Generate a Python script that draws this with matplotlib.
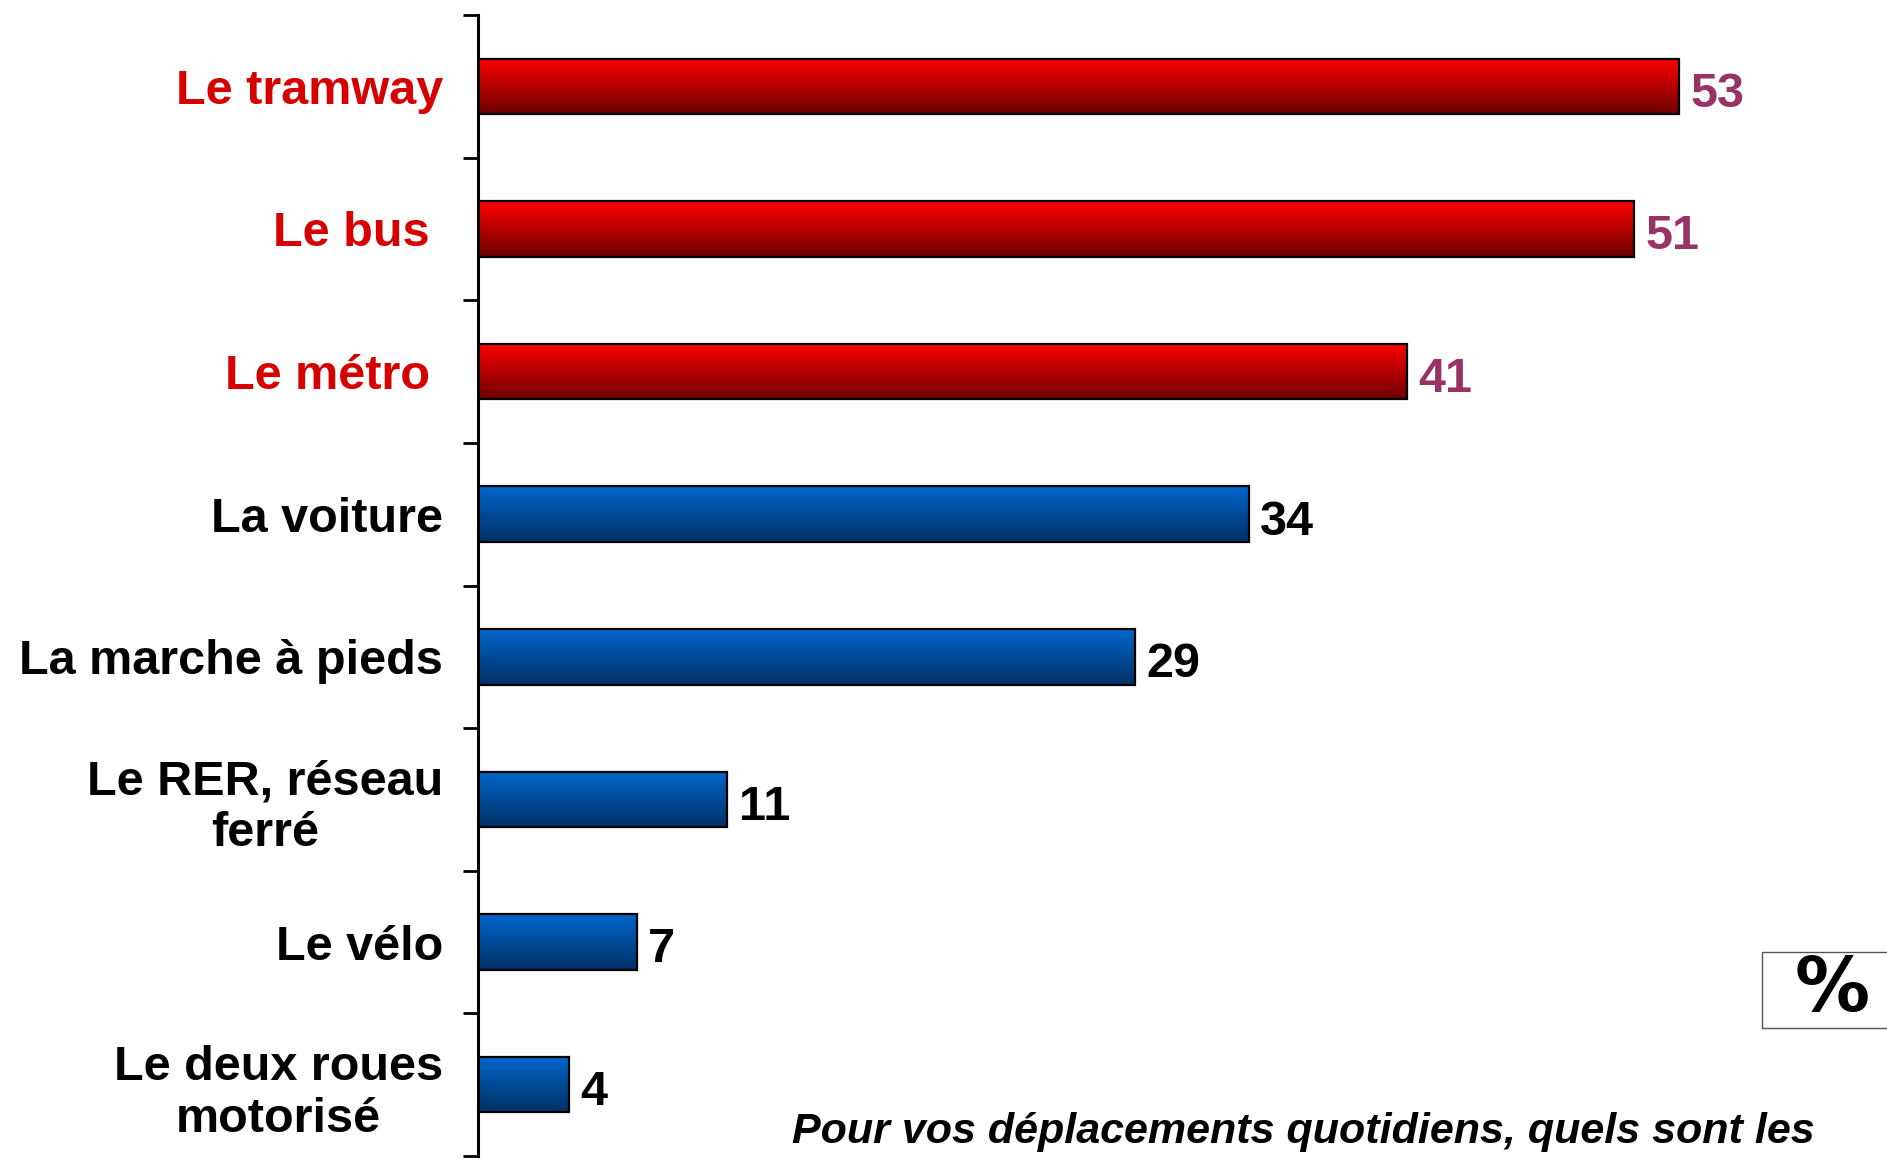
import numpy as np
import matplotlib
matplotlib.use('Agg')
import matplotlib.pyplot as plt
import matplotlib.transforms as mtransforms
from matplotlib.patches import Rectangle

# data
labels = ["Le tramway", "Le bus ", "Le métro ", "La voiture", "La marche à pieds",
          "Le RER, réseau\nferré", "Le vélo", "Le deux roues\nmotorisé"]
values = [53, 51, 41, 34, 29, 11, 7, 4]
highlight = [True, True, True, False, False, False, False, False]
question = ["Pour vos déplacements quotidiens, quels sont les",
            "moyens de transport que vous utilisez le plus ?"]

RED_TOP, RED_BOT = (1.0, 0.0, 0.0), (0.43, 0.0, 0.0)
BLUE_TOP, BLUE_BOT = (0.0, 0.40, 0.80), (0.0, 0.19, 0.40)
LABEL_RED = '#D70000'
VALUE_RED = '#993366'

plt.rc('font', family=['Liberation Sans', 'DejaVu Sans'], weight='bold', size=35)

fig = plt.figure(figsize=(18.87, 11.6), dpi=100, facecolor='w')
ax = fig.add_axes([478/1887, 4/1160, 1360/1887, 1141/1160])

ypos = np.arange(len(values))
bar_h = 0.39
bars = ax.barh(ypos, values, height=bar_h, facecolor='none', edgecolor='black',
               linewidth=1.6, zorder=3)

for b, v, y, hl in zip(bars, values, ypos, highlight):
    top, bot = (RED_TOP, RED_BOT) if hl else (BLUE_TOP, BLUE_BOT)
    t = np.linspace(0, 1, 64)[:, None, None]
    grad = np.array(top)[None, None, :] * (1 - t) + np.array(bot)[None, None, :] * t
    im = ax.imshow(grad, extent=(0, v, y + bar_h/2, y - bar_h/2), origin='upper',
                   aspect='auto', zorder=2, interpolation='bilinear')
    im.set_clip_path(b)
    ax.text(v + 0.5, y + 0.02, str(v), va='center_baseline', ha='left', fontsize=35,
            color=VALUE_RED if hl else 'black', fontweight='bold')

ax.set_xlim(0, 60)
ax.set_ylim(len(values) - 0.5, -0.5)

ax.set_yticks(ypos)
ax.set_yticklabels(labels)
shift = mtransforms.ScaledTranslation(0, -4/100, fig.dpi_scale_trans)
for lab, hl in zip(ax.get_yticklabels(), highlight):
    lab.set_multialignment('center')
    lab.set_transform(lab.get_transform() + shift)
    if hl:
        lab.set_color(LABEL_RED)
ax.tick_params(axis='y', which='major', length=0, pad=25)
ax.set_yticks(np.arange(-0.5, len(values)), minor=True)
ax.tick_params(axis='y', which='minor', length=11, width=2, direction='out')

ax.set_xticks([])
for s in ['top', 'right', 'bottom']:
    ax.spines[s].set_visible(False)
ax.spines['left'].set_linewidth(2.2)

# % box
fig.patches.append(Rectangle((1762/1887, 132/1160), 0.2, 76/1160, transform=fig.transFigure,
                             facecolor='white', edgecolor='#555555', linewidth=1))
fig.text(1832/1887, 1 - 990/1160, "%", ha='center', va='center', fontsize=54,
         fontweight='bold', family=['DejaVu Sans'])

# question text, second line cut by the figure edge as in the original
fig.text(1303/1887, 1 - 1143/1160, question[0], ha='center', va='baseline',
         fontsize=31, fontstyle='italic', fontweight='bold')
fig.text(1303/1887, 1 - 1197/1160, question[1], ha='center', va='baseline',
         fontsize=31, fontstyle='italic', fontweight='bold')

fig.savefig("out.png", dpi=100)
